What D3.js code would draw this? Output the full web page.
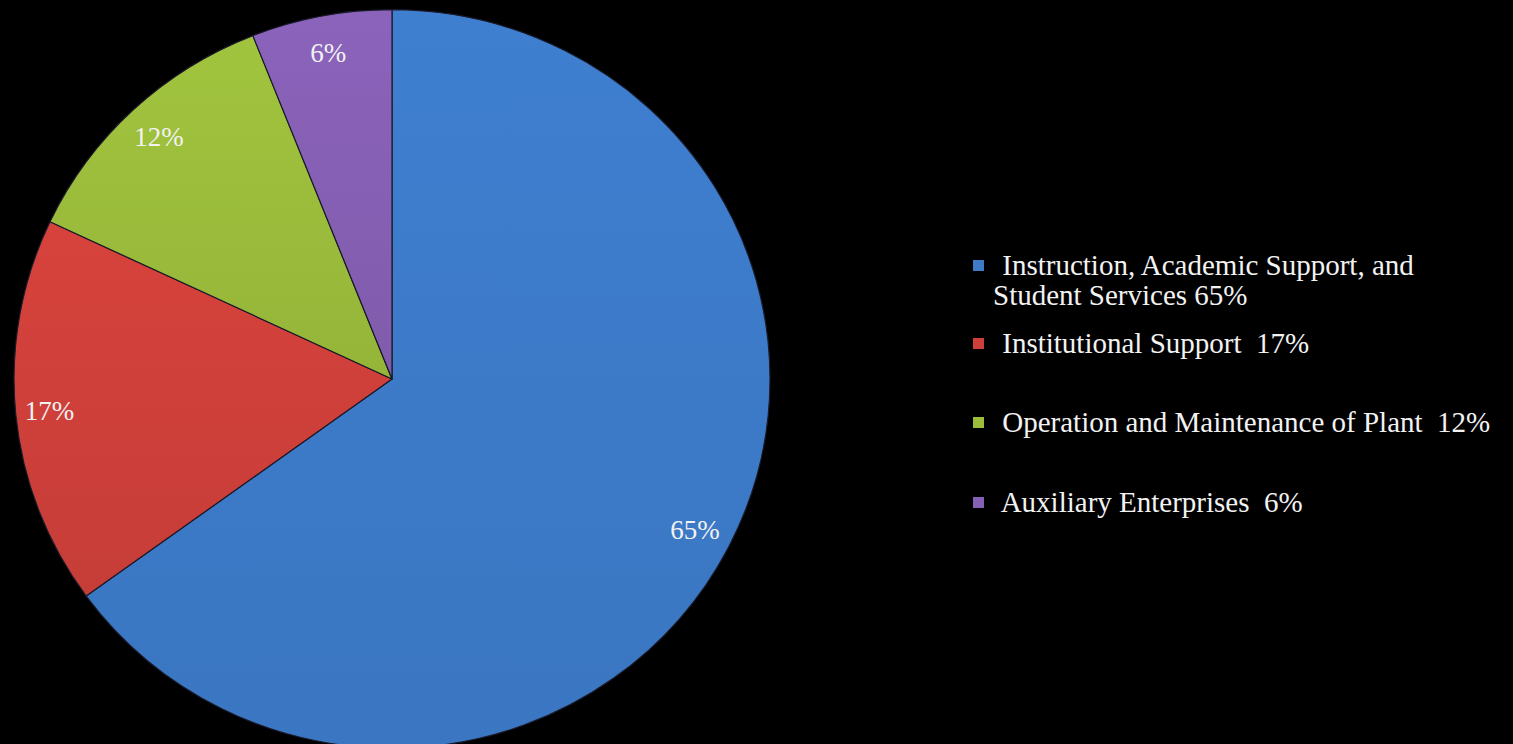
<!DOCTYPE html>
<html>
<head>
<meta charset="utf-8">
<script src="https://cdn.jsdelivr.net/npm/d3@7"></script>
<style>
  html, body { margin: 0; padding: 0; background: #000; }
  svg { display: block; }
  .pct { fill: #f2f2f2; font-family: "Liberation Serif", serif; font-size: 27px; }
  .legend text { fill: #f2f2f2; font-family: "Liberation Serif", serif; font-size: 29px; }
</style>
</head>
<body>
<div id="chart"></div>
<script>
// data
var categories = ["Instruction, Academic Support, and Student Services",
                  "Institutional Support",
                  "Operation and Maintenance of Plant",
                  "Auxiliary Enterprises"];
var values = [65, 17, 12, 6];
var legendLines = [[" Instruction, Academic Support, and", "Student Services 65%"],
                   [" Institutional Support  17%"],
                   [" Operation and Maintenance of Plant  12%"],
                   [" Auxiliary Enterprises  6%"]];
var pctLabels = ["65%", "17%", "12%", "6%"];
var colors = ["#3d7bc9", "#cf403a", "#9bbd3c", "#8660b4"];

var width = 1513, height = 744;
var cx = 392, cy = 379, radius = 378;

var svg = d3.select("#chart")
    .append("svg")
    .attr("width", width)
    .attr("height", height);

// gradients, a bit lighter at the top of each slice
var defs = svg.append("defs");
colors.forEach(function(c, i) {
    var g = defs.append("linearGradient")
        .attr("id", "grad" + i)
        .attr("x1", 0).attr("y1", 0).attr("x2", 0).attr("y2", 1);
    g.append("stop").attr("offset", "0%").attr("stop-color", d3.color(c).brighter(0.1));
    g.append("stop").attr("offset", "100%").attr("stop-color", d3.color(c).darker(0.12));
});

var pie = d3.pie().sort(null).value(d => d);
var arc = d3.arc().innerRadius(0).outerRadius(radius);

var arcs = pie(values);

// slightly flattened, like the original
var pieGroup = svg.append("g")
    .attr("transform", `translate(${cx},${cy}) scale(1,0.977)`);

pieGroup.selectAll("path")
    .data(arcs)
    .enter()
    .append("path")
        .attr("d", arc)
        .attr("fill", (d, i) => `url(#grad${i})`)
        .attr("stroke", "#1a1a2a")
        .attr("stroke-width", 1.2)
        .attr("stroke-linejoin", "round");

// percentage labels near the rim
var labelRadius = [0.9, 0.91, 0.9, 0.9];
var labelArc = i => d3.arc().innerRadius(radius * labelRadius[i]).outerRadius(radius * labelRadius[i]);

pieGroup.selectAll("text")
    .data(arcs)
    .enter()
    .append("text")
        .attr("class", "pct")
        .attr("transform", (d, i) => `translate(${labelArc(i).centroid(d)}) scale(1,${1 / 0.977})`)
        .attr("text-anchor", "middle")
        .attr("dy", "0.35em")
        .text((d, i) => pctLabels[i]);

// legend
var legendY = [275, 353, 432, 512];
var legend = svg.append("g")
    .attr("class", "legend")
    .attr("transform", "translate(973,0)");

var items = legend.selectAll("g")
    .data(categories)
    .enter()
    .append("g")
    .attr("transform", (d, i) => `translate(0,${legendY[i]})`);

items.append("rect")
    .attr("x", 0)
    .attr("y", -15)
    .attr("width", 11)
    .attr("height", 11)
    .attr("fill", (d, i) => colors[i]);

items.each(function(d, i) {
    var t = d3.select(this).append("text");
    legendLines[i].forEach(function(line, j) {
        t.append("tspan")
            .attr("x", j === 0 ? 22 : 20)
            .attr("y", j * 30)
            .attr("xml:space", "preserve")
            .style("white-space", "pre")
            .text(line);
    });
});
</script>
</body>
</html>
